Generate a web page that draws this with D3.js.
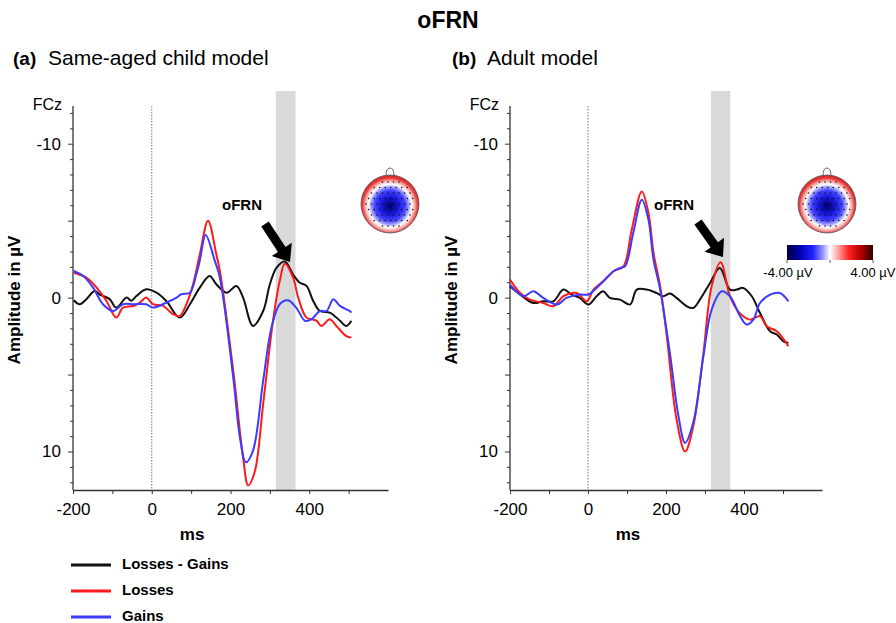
<!DOCTYPE html>
<html>
<head>
<meta charset="utf-8">
<script src="https://cdn.jsdelivr.net/npm/d3@7"></script>
<style>
  body { margin: 0; background: #fff; }
  text { font-family: "Liberation Sans", Arial, sans-serif; fill: #000; }
</style>
</head>
<body>
<svg id="chart" width="896" height="623"></svg>
<script>
// ---- data: [ms, µV] (negative plotted upward) ----
const childDiff = [[-198,0.17],[-183,0.43],[-166,0.1],[-145,-0.43],[-132,-0.2],[-107,0.1],[-90,0.65],[-64,0],[-52,0.2],[-39,-0.1],[-14,-0.54],[12,-0.32],[37,0.22],[71,1.3],[97,0.43],[122,-0.65],[147,-1.4],[164,-0.87],[190,-0.32],[215,-0.76],[232,0],[257,1.84],[283,0.87],[300,-0.87],[317,-1.95],[338,-2.35],[359,-1.5],[376,-0.97],[393,-0.76],[410,0.22],[427,0.87],[452,0.97],[478,1.5],[494,1.84],[507,1.5]];
const childLoss = [[-198,-1.62],[-166,-1.3],[-140,-0.65],[-115,0.22],[-90,1.3],[-73,0.65],[-47,0.54],[-30,0.32],[-14,0],[3,0.43],[29,0.54],[54,1.08],[71,1.19],[88,0.43],[105,-0.87],[122,-2.8],[143,-5.0],[164,-2.8],[173,-1.73],[207,4.76],[232,10.4],[245,12.2],[262,11.26],[283,6.9],[308,1.5],[325,-1.08],[338,-2.2],[359,-1.3],[372,0],[393,1.3],[418,1.5],[431,1.84],[452,1.4],[469,1.84],[494,2.5],[507,2.6]];
const childGain = [[-198,-1.73],[-174,-1.4],[-149,-0.65],[-124,0.43],[-98,0.87],[-73,0.43],[-47,0.43],[-14,0.43],[3,0.65],[37,0.32],[63,0],[75,-0.22],[97,-0.32],[113,-1.5],[122,-2.4],[137,-4.07],[160,-2.4],[173,-1.3],[207,5.2],[224,9.1],[239,10.7],[257,9.96],[283,5.4],[304,1.95],[325,0.43],[346,0.17],[367,0.65],[389,1.5],[406,1.4],[427,0.87],[444,0.87],[461,0.1],[478,0.54],[503,0.87],[507,0.97]];

const adultDiff = [[-200,-0.74],[-174,-0.2],[-140,0.35],[-115,0.24],[-89,0.24],[-63,-0.52],[-42,-0.2],[-21,0.02],[1,0.45],[22,-0.09],[39,-0.41],[56,0.02],[82,0.13],[108,0.45],[125,-0.52],[150,-0.52],[176,-0.3],[193,-0.09],[210,-0.26],[227,0.02],[253,0.56],[270,0.67],[287,0.13],[313,-0.95],[338,-1.93],[364,-0.52],[381,-0.52],[398,-0.63],[420,-0.09],[441,1.0],[467,2.19],[484,2.4],[501,2.84],[514,2.94]];
const adultLoss = [[-200,-1.17],[-174,-0.3],[-149,0.13],[-115,0.35],[-89,0.56],[-63,-0.09],[-29,-0.3],[-3,0.24],[14,-0.52],[39,-1.06],[65,-1.7],[91,-2.03],[112,-4.4],[138,-6.9],[155,-5.5],[168,-2.9],[185,-0.74],[202,2.5],[227,7.9],[249,10],[270,8.35],[296,3.6],[317,-0.74],[340,-2.3],[364,-0.09],[385,0.89],[415,1.43],[441,1.2],[458,1.86],[484,2.19],[514,3.16]];
const adultGain = [[-200,-0.84],[-166,-0.09],[-140,-0.41],[-115,0.02],[-80,0.45],[-55,0.02],[-21,-0.2],[1,-0.2],[22,-0.63],[48,-1.28],[65,-1.71],[82,-1.93],[95,-2.03],[116,-4.2],[138,-6.36],[155,-5.06],[168,-2.47],[185,-0.52],[210,3.6],[232,7.7],[249,9.44],[270,8.1],[296,3.8],[317,0.78],[343,-0.41],[364,-0.09],[390,1.21],[407,1.75],[424,1.43],[441,0.35],[467,-0.2],[492,-0.3],[514,0.24]];

const seriesNames = ['Losses - Gains', 'Losses', 'Gains'];
const seriesColors = ['#111111', '#ff1a1a', '#3b3bff'];
const xTickValues = [-200, -100, 0, 100, 200, 300, 400, 500];
const xTickLabels = [-200, 0, 200, 400];
const yTickValues = d3.range(-12, 13);
const yTickLabels = [-10, 0, 10];
const windowMs = [315, 365];        // shaded oFRN window
const colorbarLabels = ['-4.00 µV', '4.00 µV'];

const svg = d3.select('#chart');
const defs = svg.append('defs');

// topomap + colorbar gradients
const rg = defs.append('radialGradient').attr('id', 'topo')
  .attr('cx', 0.5).attr('cy', 0.53).attr('r', 0.53);
[[0, '#00006a'], [0.3, '#1a1ae0'], [0.5, '#4444ff'], [0.62, '#aaaaff'], [0.7, '#ffffff'],
 [0.8, '#f6b0b0'], [0.9, '#e83a3a'], [1, '#d02020']]
  .forEach(s => rg.append('stop').attr('offset', s[0]).attr('stop-color', s[1]));

const lg = defs.append('linearGradient').attr('id', 'cbar');
[[0, '#000040'], [0.15, '#0000b0'], [0.3, '#2020ff'], [0.42, '#9a9aff'], [0.5, '#ffffff'],
 [0.58, '#ffb0b0'], [0.72, '#ff2020'], [0.86, '#b00000'], [1, '#300000']]
  .forEach(s => lg.append('stop').attr('offset', s[0]).attr('stop-color', s[1]));

// main title
svg.append('text').attr('x', 448).attr('y', 28).attr('text-anchor', 'middle')
  .style('font-size', '23px').style('font-weight', 'bold').text('oFRN');

const panels = [
  {label: '(a)', title: 'Same-aged child model', lx: 13, tx: 48, x0: 73, x1: 388,
   data: [childDiff, childLoss, childGain], ofrn: [222, 210], arrow: [[265, 224], [290, 262]],
   topo: [390, 204], colorbar: false},
  {label: '(b)', title: 'Adult model', lx: 452, tx: 487, x0: 510, x1: 822,
   data: [adultDiff, adultLoss, adultGain], ofrn: [654, 210], arrow: [[698, 222], [723, 257]],
   topo: [827, 204], colorbar: true}
];

const yTop = 106, yBot = 490;

panels.forEach(p => {
  const x = d3.scaleLinear().domain([-200, 600]).range([p.x0, p.x1]);
  const y = d3.scaleLinear().domain([-12.45, 12.5]).range([yTop, yBot]);
  const g = svg.append('g');

  // panel heading
  g.append('text').attr('x', p.lx).attr('y', 65)
    .style('font-size', '19px').style('font-weight', 'bold').text(p.label);
  g.append('text').attr('x', p.tx).attr('y', 65)
    .style('font-size', '21px').text(p.title);

  // shaded window
  g.append('rect')
    .attr('x', x(windowMs[0])).attr('width', x(windowMs[1]) - x(windowMs[0]))
    .attr('y', 91).attr('height', yBot - 91)
    .attr('fill', '#d9d9d9');

  // stimulus onset
  g.append('line')
    .attr('x1', x(0)).attr('x2', x(0)).attr('y1', yTop).attr('y2', yBot)
    .attr('stroke', '#777').attr('stroke-width', 1).attr('stroke-dasharray', '1.5,1.5');

  // axes
  const xAxis = d3.axisBottom(x).tickValues(xTickValues).tickSize(4).tickPadding(9).tickSizeOuter(0)
    .tickFormat(d => xTickLabels.includes(d) ? d : '');
  const yAxis = d3.axisLeft(y).tickValues(yTickValues).tickSize(4).tickPadding(8).tickSizeOuter(0)
    .tickFormat(d => yTickLabels.includes(d) ? d : '');

  const gx = g.append('g').attr('transform', `translate(0,${yBot})`).call(xAxis);
  const gy = g.append('g').attr('transform', `translate(${p.x0},0)`).call(yAxis);
  [gx, gy].forEach(a => {
    a.select('.domain').attr('stroke', '#333').attr('stroke-width', 1.3);
    a.selectAll('.tick line').attr('stroke', '#333');
    a.selectAll('.tick text').style('font-size', '17px')
      .style('font-family', '"Liberation Sans", Arial, sans-serif').attr('fill', '#000');
  });
  gy.selectAll('.tick line').attr('x2', d => d % 5 === 0 ? -5 : -3);
  gy.select('.domain').attr('d', `M0,${yTop}V${yBot}`);

  g.append('text').attr('x', p.x0 - 11).attr('y', 110).attr('text-anchor', 'end')
    .style('font-size', '16px').text('FCz');

  g.append('text')
    .attr('transform', `translate(${p.x0 - 53},300) rotate(-90)`)
    .attr('text-anchor', 'middle')
    .style('font-size', '17px').style('font-weight', 'bold').text('Amplitude in µV');

  g.append('text').attr('x', x(100) + 1).attr('y', 540).attr('text-anchor', 'middle')
    .style('font-size', '17px').style('font-weight', 'bold').text('ms');

  // waveforms
  const line = d3.line().x(d => x(d[0])).y(d => y(d[1])).curve(d3.curveCatmullRom.alpha(0.5));
  p.data.forEach((s, i) => {
    g.append('path').datum(s).attr('d', line)
      .attr('fill', 'none').attr('stroke', seriesColors[i]).attr('stroke-width', 2)
      .attr('stroke-linejoin', 'round');
  });

  // oFRN annotation + arrow
  g.append('text').attr('x', p.ofrn[0]).attr('y', p.ofrn[1])
    .style('font-size', '15px').style('font-weight', 'bold').text('oFRN');
  const [[ax, ay], [bx, by]] = p.arrow;
  const len = Math.hypot(bx - ax, by - ay), ux = (bx - ax) / len, uy = (by - ay) / len;
  const nx = -uy, ny = ux, hl = 15, sw = 4.5, hw = 12;
  const hx = bx - ux * hl, hy = by - uy * hl;
  const pts = [
    [ax + nx * sw, ay + ny * sw], [hx + nx * sw, hy + ny * sw], [hx + nx * hw, hy + ny * hw],
    [bx, by], [hx - nx * hw, hy - ny * hw], [hx - nx * sw, hy - ny * sw], [ax - nx * sw, ay - ny * sw]
  ];
  g.append('path').attr('d', 'M' + pts.map(q => q.join(',')).join('L') + 'Z').attr('fill', '#000');

  // scalp topography
  const [cx, cy] = p.topo, r = 29;
  g.append('path')
    .attr('d', `M${cx - 4},${cy - r + 1} Q${cx - 4},${cy - r - 7} ${cx},${cy - r - 7} Q${cx + 4},${cy - r - 7} ${cx + 4},${cy - r + 1}`)
    .attr('fill', 'none').attr('stroke', '#666').attr('stroke-width', 1);
  g.append('circle').attr('cx', cx).attr('cy', cy).attr('r', r)
    .attr('fill', 'url(#topo)').attr('stroke', '#555').attr('stroke-width', 0.8);
  const dots = [];
  for (let dy = -22; dy <= 24; dy += 5.5) {
    for (let dx = -24; dx <= 24; dx += 5.5) {
      if (dx * dx + dy * dy < (r - 4) * (r - 4)) dots.push([cx + dx + (Math.round(dy / 5.5) % 2 ? 2.7 : 0), cy + dy]);
    }
  }
  g.selectAll(null).data(dots).enter().append('circle')
    .attr('cx', d => d[0]).attr('cy', d => d[1]).attr('r', 0.8).attr('fill', '#111');

  if (p.colorbar) {
    g.append('rect').attr('x', 787).attr('y', 245).attr('width', 86).attr('height', 15)
      .attr('fill', 'url(#cbar)');
    [787, 830, 873].forEach(tx => g.append('line').attr('x1', tx).attr('x2', tx)
      .attr('y1', 260).attr('y2', 263).attr('stroke', '#555'));
    g.append('text').attr('x', 788).attr('y', 277).attr('text-anchor', 'middle')
      .style('font-size', '13px').text(colorbarLabels[0]);
    g.append('text').attr('x', 873).attr('y', 277).attr('text-anchor', 'middle')
      .style('font-size', '13px').text(colorbarLabels[1]);
  }
});

// legend
const legend = svg.append('g');
seriesNames.forEach((name, i) => {
  const ly = 565 + i * 26;
  legend.append('line').attr('x1', 71).attr('x2', 111).attr('y1', ly).attr('y2', ly)
    .attr('stroke', seriesColors[i]).attr('stroke-width', 3);
  legend.append('text').attr('x', 122).attr('y', ly + 4)
    .style('font-size', '15px').style('font-weight', 'bold').text(name);
});
</script>
</body>
</html>
